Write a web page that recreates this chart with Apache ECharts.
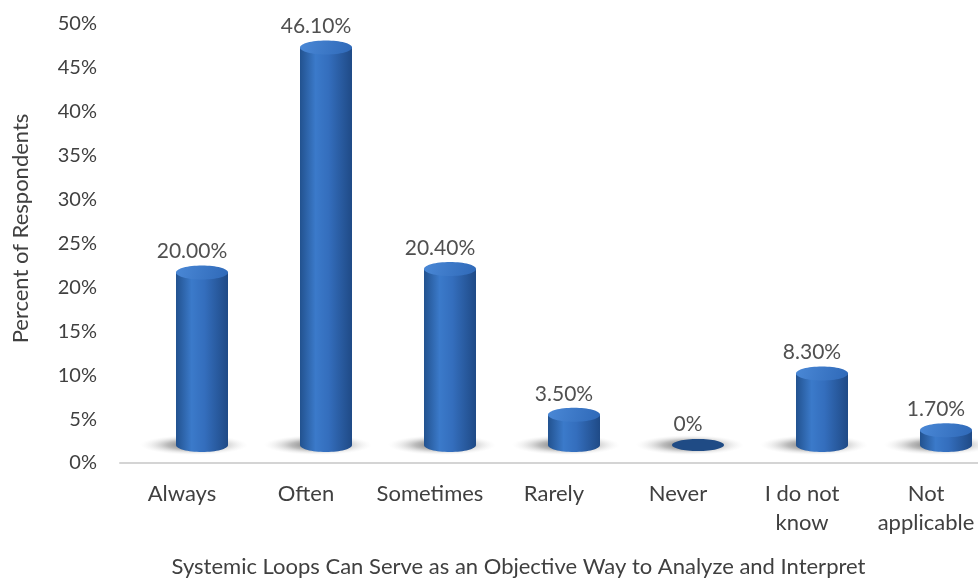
<!DOCTYPE html>
<html>
<head>
<meta charset="utf-8">
<script src="https://cdn.jsdelivr.net/npm/echarts@6/dist/echarts.min.js"></script>
<style>
  html, body { margin: 0; padding: 0; background: #ffffff; }
  #chart { width: 978px; height: 581px; }
</style>
</head>
<body>
<div id="chart"></div>
<script>
// Survey answers and their shares (percent of respondents)
const categories = ['Always', 'Often', 'Sometimes', 'Rarely', 'Never', 'I do not\nknow', 'Not\napplicable'];
const values = [20.0, 46.1, 20.4, 3.5, 0, 8.3, 1.7];
const valueLabels = ['20.00%', '46.10%', '20.40%', '3.50%', '0%', '8.30%', '1.70%'];
const yTicks = [0, 5, 10, 15, 20, 25, 30, 35, 40, 45, 50];

const FONT = 'Lato, "Open Sans", sans-serif';
const TEXT = '#404040';

// Depth offset of the floor plane and cylinder geometry
const DX = 20, DY = -18, DEPTH_SCALE = 0.982, RX = 26, RY = 7;

const bodyGradient = new echarts.graphic.LinearGradient(0, 0, 1, 0, [
  { offset: 0, color: '#22528f' },
  { offset: 0.3, color: '#3b7aca' },
  { offset: 0.55, color: '#346ebd' },
  { offset: 1, color: '#1f4a86' }
]);
const topGradient = new echarts.graphic.LinearGradient(0, 0, 1, 1, [
  { offset: 0, color: '#4a88d6' },
  { offset: 1, color: '#2f69b8' }
]);
const shadowGradient = new echarts.graphic.RadialGradient(0.5, 0.5, 0.5, [
  { offset: 0, color: 'rgba(60,60,60,0.85)' },
  { offset: 0.5, color: 'rgba(120,120,120,0.5)' },
  { offset: 1, color: 'rgba(225,225,225,0)' }
]);

function renderCylinder(params, api) {
  const idx = api.value(0);
  const val = api.value(1);
  const p0 = api.coord([idx, 0]);
  const p1 = api.coord([idx, val]);
  const cx = p0[0] + DX;
  const baseY = p0[1] + DY;
  const topY = baseY - (p0[1] - p1[1]) * DEPTH_SCALE;
  const children = [];

  // soft floor shadow (a stretched circle so the gradient stays elliptical)
  const shadowRy = 10;
  children.push({
    type: 'circle',
    x: cx - 8,
    y: baseY,
    scaleX: (RX + 28) / shadowRy,
    shape: { cx: 0, cy: 0, r: shadowRy },
    style: { fill: shadowGradient },
    z2: 1
  });

  if (val > 0) {
    children.push({
      type: 'ellipse',
      shape: { cx: cx, cy: baseY, rx: RX, ry: RY },
      style: { fill: bodyGradient },
      z2: 2
    });
    children.push({
      type: 'rect',
      shape: { x: cx - RX, y: topY, width: RX * 2, height: baseY - topY },
      style: { fill: bodyGradient },
      z2: 3
    });
    children.push({
      type: 'ellipse',
      shape: { cx: cx, cy: topY, rx: RX, ry: RY },
      style: { fill: topGradient },
      z2: 4
    });
  } else {
    children.push({
      type: 'ellipse',
      shape: { cx: cx, cy: baseY, rx: RX, ry: RY - 1 },
      style: { fill: '#1f4b85' },
      z2: 4
    });
  }

  children.push({
    type: 'text',
    x: cx - 10,
    y: topY - RY - 14,
    style: {
      text: valueLabels[idx],
      fill: '#505050',
      font: '21px ' + FONT,
      align: 'center',
      verticalAlign: 'middle'
    },
    z2: 5
  });

  return { type: 'group', children: children };
}

const chart = echarts.init(document.getElementById('chart'), null, { renderer: 'canvas' });
chart.setOption({
  animation: false,
  backgroundColor: '#ffffff',
  grid: { left: 120, top: 24, width: 868, height: 439, containLabel: false, outerBoundsMode: 'none' },
  xAxis: {
    type: 'category',
    data: categories,
    axisTick: { show: false },
    axisLine: { show: true, lineStyle: { color: '#d4d4d4', width: 2 } },
    axisLabel: {
      color: TEXT,
      fontFamily: FONT,
      fontSize: 22,
      lineHeight: 29,
      margin: 16,
      interval: 0
    },
    name: 'Systemic Loops Can Serve as an Objective Way to Analyze and Interpret',
    nameLocation: 'middle',
    nameGap: 93,
    nameTextStyle: { color: TEXT, fontFamily: FONT, fontSize: 22, padding: [0, 0, 0, -71] }
  },
  yAxis: {
    type: 'value',
    min: 0,
    max: 50,
    interval: 5,
    splitLine: { show: false },
    axisLine: { show: false },
    axisTick: { show: false },
    axisLabel: {
      color: TEXT,
      fontFamily: FONT,
      fontSize: 20,
      margin: 23,
      formatter: function (v) { return yTicks.indexOf(v) >= 0 ? v + '%' : ''; }
    },
    name: 'Percent of Respondents',
    nameLocation: 'middle',
    nameRotate: 90,
    nameGap: 88,
    nameTextStyle: { color: TEXT, fontFamily: FONT, fontSize: 22, padding: [0, 0, 0, 30] }
  },
  series: [{
    type: 'custom',
    renderItem: renderCylinder,
    data: values.map(function (v, i) { return [i, v]; }),
    encode: { x: 0, y: 1 },
    clip: false
  }]
});
</script>
</body>
</html>
